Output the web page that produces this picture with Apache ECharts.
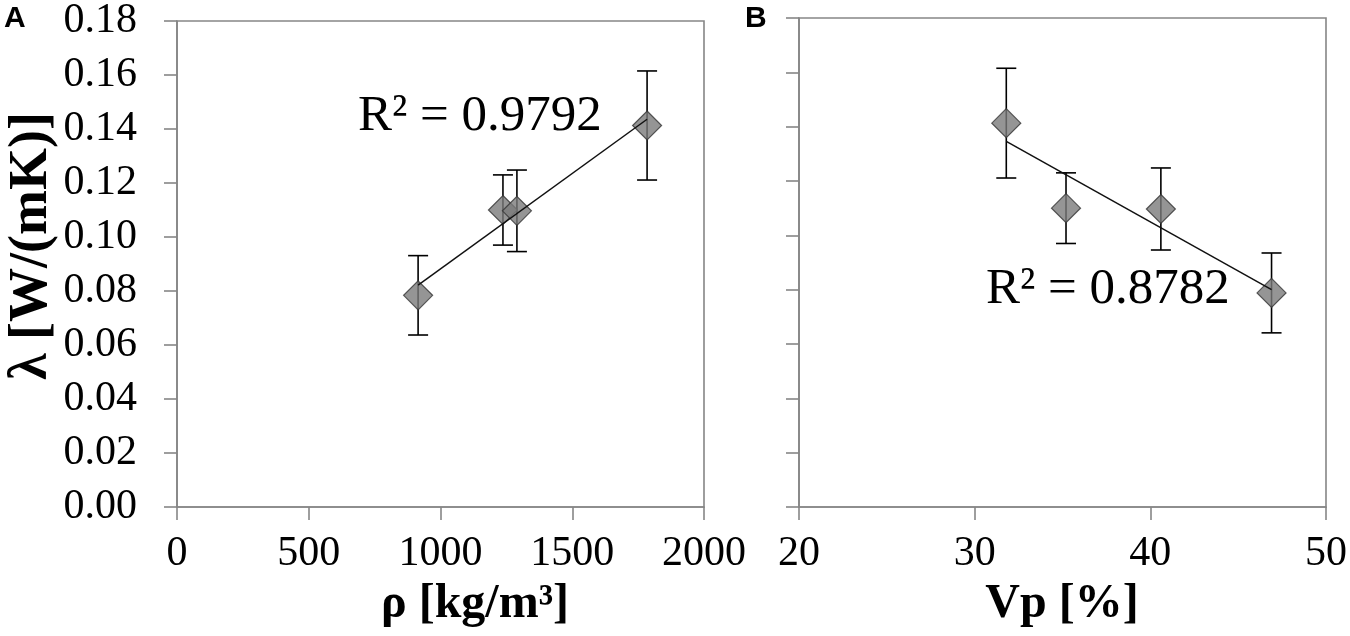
<!DOCTYPE html>
<html>
<head>
<meta charset="utf-8">
<script src="https://cdn.jsdelivr.net/npm/echarts@6/dist/echarts.min.js"></script>
<style>
  html, body { margin: 0; padding: 0; background: #fff; }
  #chart { width: 1350px; height: 636px; }
</style>
</head>
<body>
<div id="chart"></div>
<script>
// panel A: density vs conductivity
const density = [915, 1237, 1290, 1784]
const lambdaA = [0.0784, 0.110, 0.1097, 0.1413]
const errA = [0.0147, 0.013, 0.0151, 0.0202]
// panel B: porosity vs conductivity
const porosity = [31.8, 35.2, 40.6, 46.9]
const lambdaB = [0.1413, 0.110, 0.1097, 0.0788]
const errB = [0.0202, 0.013, 0.0151, 0.0147]
const r2A = '0.9792'
const r2B = '0.8782'
const xTicksA = [0, 2000, 500]
const xTicksB = [20, 50, 10]
const yTicks = [0, 0.18, 0.02]

const serif = 'Liberation Serif'
const axisGray = '#868686'

// least squares fit, drawn from min x to max x
function fit (xs, ys) {
  const n = xs.length
  const mx = xs.reduce((a, b) => a + b, 0) / n
  const my = ys.reduce((a, b) => a + b, 0) / n
  let sxy = 0, sxx = 0
  for (let i = 0; i < n; i++) {
    sxy += (xs[i] - mx) * (ys[i] - my)
    sxx += (xs[i] - mx) * (xs[i] - mx)
  }
  const k = sxy / sxx
  const x0 = Math.min(...xs), x1 = Math.max(...xs)
  return [[x0, my + k * (x0 - mx)], [x1, my + k * (x1 - mx)]]
}

function errorItem (params, api) {
  const x = api.value(0)
  const top = api.coord([x, api.value(2)])
  const bot = api.coord([x, api.value(1)])
  const w = 10
  const st = {stroke: '#000', lineWidth: 1.6}
  return {
    type: 'group',
    children: [
      {type: 'line', shape: {x1: top[0], y1: top[1], x2: bot[0], y2: bot[1]}, style: st},
      {type: 'line', shape: {x1: top[0] - w, y1: top[1], x2: top[0] + w, y2: top[1]}, style: st},
      {type: 'line', shape: {x1: bot[0] - w, y1: bot[1], x2: bot[0] + w, y2: bot[1]}, style: st}
    ]
  }
}

function xAxisOf (idx, t) {
  return {
    type: 'value', gridIndex: idx, min: t[0], max: t[1], interval: t[2],
    axisLine: {lineStyle: {color: axisGray, width: 1.6}},
    axisTick: {length: 13, lineStyle: {color: axisGray, width: 1.6}},
    splitLine: {show: false},
    axisLabel: {color: '#000', fontFamily: serif, fontSize: 42, margin: 26,
      formatter: v => String(v)}
  }
}
function yAxisOf (idx, labels) {
  return {
    type: 'value', gridIndex: idx, min: yTicks[0], max: yTicks[1], interval: yTicks[2],
    axisLine: {show: true, lineStyle: {color: axisGray, width: 1.6}},
    axisTick: {show: true, length: 13, lineStyle: {color: axisGray, width: 1.6}},
    splitLine: {show: false},
    axisLabel: {show: labels, color: '#000', fontFamily: serif, fontSize: 42, margin: 40,
      formatter: v => v.toFixed(2)}
  }
}

const marker = {color: '#7a7a7a', borderColor: '#333', borderWidth: 1.2}
const trendStyle = {color: '#111', width: 1.5}

let option = {
  animation: false,
  backgroundColor: '#fff',
  grid: [
    {left: 177, top: 18, width: 527, height: 489, show: true, borderColor: axisGray, borderWidth: 1.6},
    {left: 799, top: 18, width: 528, height: 489, show: true, borderColor: axisGray, borderWidth: 1.6}
  ],
  xAxis: [xAxisOf(0, xTicksA), xAxisOf(1, xTicksB)],
  yAxis: [yAxisOf(0, true), yAxisOf(1, false)],
  series: [
    {
      type: 'custom', xAxisIndex: 0, yAxisIndex: 0, z: 2, renderItem: errorItem,
      data: density.map((x, i) => [x, lambdaA[i] - errA[i], lambdaA[i] + errA[i]])
    },
    {
      type: 'scatter', xAxisIndex: 0, yAxisIndex: 0, z: 3, symbol: 'diamond', symbolSize: 29,
      itemStyle: marker, data: density.map((x, i) => [x, lambdaA[i]])
    },
    {
      type: 'line', xAxisIndex: 0, yAxisIndex: 0, z: 4, symbol: 'none', silent: true,
      lineStyle: trendStyle, data: fit(density, lambdaA)
    },
    {
      type: 'custom', xAxisIndex: 1, yAxisIndex: 1, z: 2, renderItem: errorItem,
      data: porosity.map((x, i) => [x, lambdaB[i] - errB[i], lambdaB[i] + errB[i]])
    },
    {
      type: 'scatter', xAxisIndex: 1, yAxisIndex: 1, z: 3, symbol: 'diamond', symbolSize: 29,
      itemStyle: marker, data: porosity.map((x, i) => [x, lambdaB[i]])
    },
    {
      type: 'line', xAxisIndex: 1, yAxisIndex: 1, z: 4, symbol: 'none', silent: true,
      lineStyle: trendStyle, data: fit(porosity, lambdaB)
    }
  ],
  graphic: [
    {type: 'text', left: 4, top: 4, style: {text: 'A', font: 'bold 30px "Liberation Sans"', fill: '#000'}},
    {type: 'text', left: 745, top: 4, style: {text: 'B', font: 'bold 30px "Liberation Sans"', fill: '#000'}},
    {type: 'text', x: 32, y: 246, rotation: Math.PI / 2,
      style: {text: 'λ [W/(mK)]', font: 'bold 54px "Liberation Serif"', fill: '#000', align: 'center', verticalAlign: 'middle'}},
    {type: 'text', x: 475, y: 605,
      style: {text: 'ρ [kg/m³]', font: 'bold 48px "Liberation Serif"', fill: '#000', align: 'center', verticalAlign: 'middle'}},
    {type: 'text', x: 1062, y: 605,
      style: {text: 'Vp [%]', font: 'bold 48px "Liberation Serif"', fill: '#000', align: 'center', verticalAlign: 'middle'}},
    {type: 'text', x: 358, y: 117,
      style: {text: 'R² = ' + r2A, font: '51px "Liberation Serif"', fill: '#000', align: 'left', verticalAlign: 'middle'}},
    {type: 'text', x: 986, y: 290,
      style: {text: 'R² = ' + r2B, font: '51px "Liberation Serif"', fill: '#000', align: 'left', verticalAlign: 'middle'}}
  ]
}
echarts.init(document.getElementById('chart')).setOption(option)
</script>
</body>
</html>
